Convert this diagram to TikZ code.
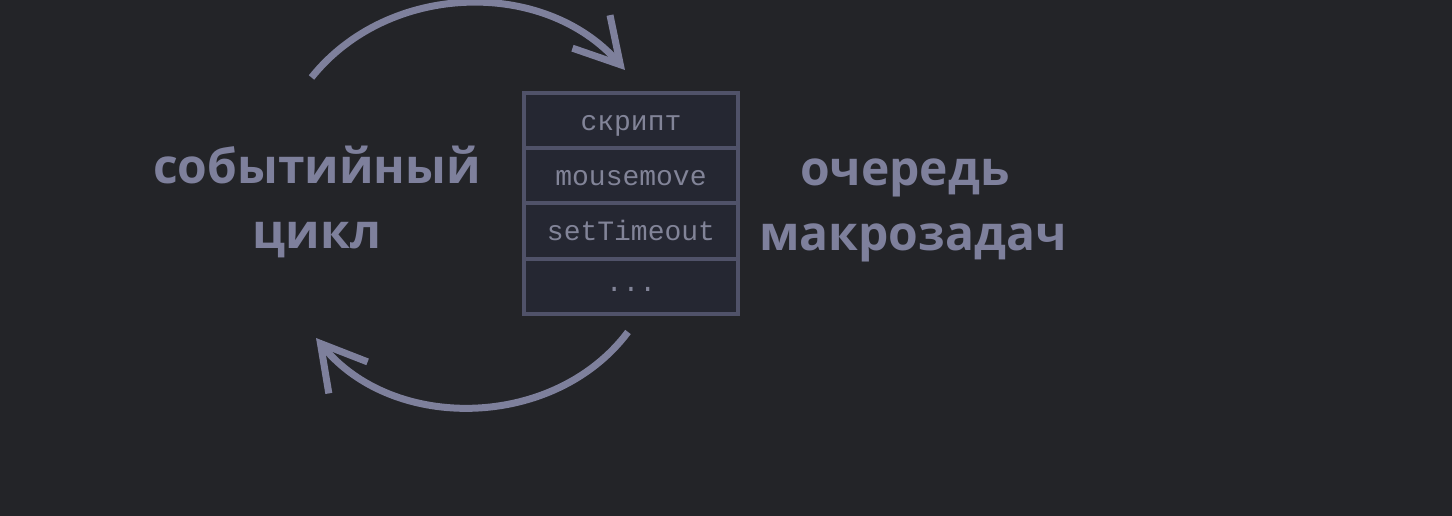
\documentclass[tikz,border=0pt]{standalone}
\usepackage{fontspec}
\setmainfont{Open Sans}
\newfontfamily\queuefont{Liberation Mono}
\usetikzlibrary{positioning,arrows.meta}

\definecolor{bgcol}{RGB}{35,36,40}
\definecolor{labelcol}{RGB}{126,128,156}
\definecolor{cellfill}{RGB}{37,39,50}
\definecolor{celldraw}{RGB}{80,82,105}
\definecolor{celltext}{RGB}{130,132,152}

\tikzset{
  bigtext/.style={text=labelcol, align=center, anchor=base,
    font=\fontsize{48pt}{65pt}\selectfont\bfseries},
  cell/.style={draw=celldraw, fill=cellfill, line width=4pt, outer sep=0pt,
    minimum width=214pt, minimum height=55.25pt, inner sep=0pt,
    text height=20pt, text depth=1pt,
    text=celltext, font=\fontsize{28pt}{30pt}\selectfont\queuefont},
  loop/.style={draw=labelcol, line width=7pt,
    -{Straight Barb[length=44pt, width=50pt]}}
}

\begin{document}
\begin{tikzpicture}[x=1pt, y=1pt]
  \fill[bgcol] (0,0) rectangle (1452,-516);
  \useasboundingbox (0,0) rectangle (1452,-516);

  % queue
  \node[cell] (q1) at (631,-120.6) {скрипт};
  \node[cell, below=0pt of q1] (q2) {mousemove};
  \node[cell, below=0pt of q2] (q3) {setTimeout};
  \node[cell, below=0pt of q3, text height=11pt] (q4) {...};

  % labels
  \node[bigtext] (loop) at (317,-248) {событийный\\цикл};
  \node[bigtext] (queue) at (913,-250) {очередь\hspace*{16pt}\\макрозадач};

  % arrow ends
  \coordinate (t1) at (311.5,-77.5);
  \coordinate (t2) at (625,-70);
  \coordinate (b1) at (628,-332);
  \coordinate (b2) at (316,-338);

  \draw[loop] (t1) to[bend left=50] (t2);
  \draw[loop] (b1) to[bend left=52] (b2);
\end{tikzpicture}
\end{document}
